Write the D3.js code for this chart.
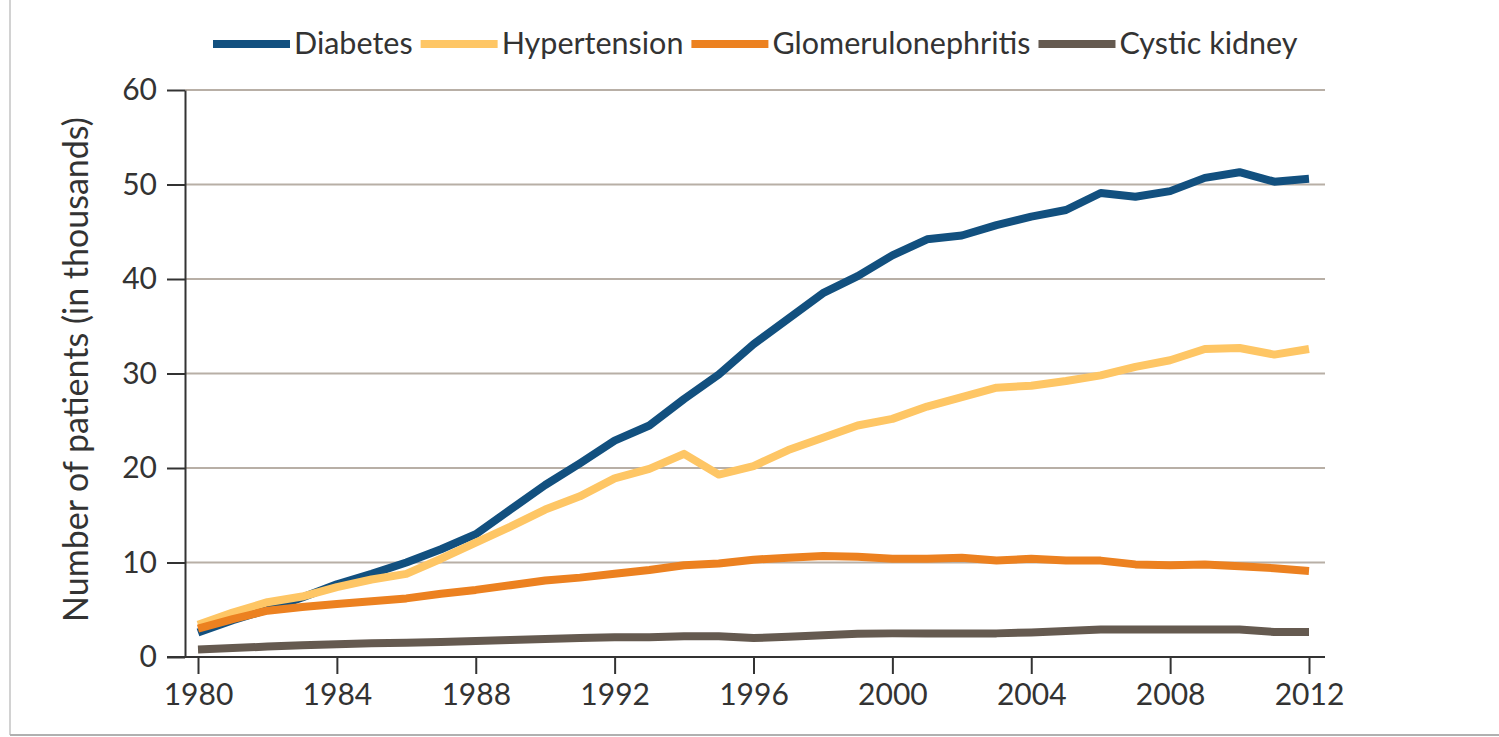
<!DOCTYPE html>
<html>
<head>
<meta charset="utf-8">
<script src="https://cdn.jsdelivr.net/npm/d3@7"></script>
<style>
  body { margin: 0; background: #fff; }
  svg { display: block; font-family: Lato, "Open Sans", sans-serif; }
</style>
</head>
<body>
<div id="chart"></div>
<script>
// ===== data (thousands of patients)
var years = d3.range(1980, 2013);
var diabetes = [2.6, 3.9, 5.0, 6.3, 7.7, 8.8, 10.0, 11.4, 13.0, 15.6, 18.2, 20.5, 22.9, 24.5, 27.3, 29.9, 33.1, 35.8, 38.5, 40.3, 42.5, 44.2, 44.6, 45.7, 46.6, 47.3, 49.1, 48.7, 49.3, 50.7, 51.3, 50.3, 50.6];
var hypertension = [3.4, 4.7, 5.8, 6.4, 7.4, 8.2, 8.8, 10.4, 12.1, 13.8, 15.6, 17.0, 18.9, 19.9, 21.5, 19.3, 20.2, 21.9, 23.2, 24.5, 25.2, 26.5, 27.5, 28.5, 28.7, 29.2, 29.8, 30.7, 31.4, 32.6, 32.7, 32.0, 32.6];
var glomerulonephritis = [3.0, 4.0, 4.9, 5.3, 5.6, 5.9, 6.2, 6.7, 7.1, 7.6, 8.1, 8.4, 8.8, 9.2, 9.7, 9.9, 10.3, 10.5, 10.7, 10.6, 10.4, 10.4, 10.5, 10.2, 10.4, 10.2, 10.2, 9.8, 9.7, 9.8, 9.6, 9.4, 9.1];
var cysticKidney = [0.8, 0.95, 1.1, 1.25, 1.35, 1.45, 1.5, 1.6, 1.7, 1.8, 1.9, 2.0, 2.1, 2.1, 2.2, 2.2, 2.0, 2.15, 2.3, 2.45, 2.5, 2.5, 2.5, 2.5, 2.6, 2.75, 2.9, 2.9, 2.9, 2.9, 2.9, 2.65, 2.65];
var seriesNames = ["Diabetes", "Hypertension", "Glomerulonephritis", "Cystic kidney"];
var seriesColors = ["#12507f", "#fec665", "#ec8120", "#655a50"];
var yTicks = [0, 10, 20, 30, 40, 50, 60];
var xTicks = [1980, 1984, 1988, 1992, 1996, 2000, 2004, 2008, 2012];

var series = [diabetes, hypertension, glomerulonephritis, cysticKidney].map(function(vals, i) {
  return { name: seriesNames[i], color: seriesColors[i], values: vals.map(function(v, j) { return { year: years[j], value: v }; }) };
});

// ===== size
var svgWidth = 1499, svgHeight = 737;
var plotLeft = 185, plotRight = 1325, plotTop = 90, plotBottom = 657;

var svg = d3.select("#chart").append("svg")
  .attr("width", svgWidth)
  .attr("height", svgHeight);

// page frame (left and bottom edge of the screenshot)
svg.append("line").attr("x1", 10).attr("x2", 10).attr("y1", 0).attr("y2", 735)
  .attr("stroke", "#d2d2d2").attr("stroke-width", 2);
svg.append("line").attr("x1", 10).attr("x2", svgWidth).attr("y1", 735).attr("y2", 735)
  .attr("stroke", "#b0b0b0").attr("stroke-width", 2);

// ===== scales
var x = d3.scaleLinear().domain([1980, 2012]).range([198, 1309]);
var y = d3.scaleLinear().domain([0, 60]).range([plotBottom, plotTop]);

// gridlines
svg.append("g").selectAll("line")
  .data(yTicks.filter(function(d) { return d > 0; }))
  .enter().append("line")
  .attr("x1", plotLeft).attr("x2", plotRight)
  .attr("y1", function(d) { return y(d); }).attr("y2", function(d) { return y(d); })
  .attr("stroke", "#b8afa6").attr("stroke-width", 2);

// y axis
var yAxis = svg.append("g")
  .attr("transform", "translate(" + plotLeft + ",0)")
  .call(d3.axisLeft(y).tickValues(yTicks).tickSize(18).tickSizeOuter(0).tickPadding(10));

// x axis
var xAxis = svg.append("g")
  .attr("transform", "translate(0," + plotBottom + ")")
  .call(d3.axisBottom(x).tickValues(xTicks).tickFormat(d3.format("d")).tickSize(17).tickSizeOuter(0).tickPadding(10));
xAxis.select(".domain").remove();
xAxis.append("line").attr("x1", plotLeft - 18).attr("x2", plotRight).attr("y1", 0).attr("y2", 0)
  .attr("stroke", "#333").attr("stroke-width", 2);

[yAxis, xAxis].forEach(function(ax) {
  ax.selectAll(".domain").attr("stroke", "#333").attr("stroke-width", 2);
  ax.selectAll(".tick line").attr("stroke", "#333").attr("stroke-width", 2);
  ax.selectAll(".tick text").attr("fill", "#333").style("font-size", "30px").style("font-family", "Lato, sans-serif");
});

// y axis title
svg.append("text")
  .attr("transform", "translate(88," + ((plotTop + plotBottom) / 2 - 4) + ") rotate(-90)")
  .attr("text-anchor", "middle")
  .attr("fill", "#333")
  .style("font-size", "34px")
  .text("Number of patients (in thousands)");

// ===== lines
var line = d3.line()
  .x(function(d) { return x(d.year); })
  .y(function(d) { return y(d.value); });

svg.append("g").selectAll("path")
  .data(series)
  .enter().append("path")
  .attr("d", function(d) { return line(d.values); })
  .attr("fill", "none")
  .attr("stroke", function(d) { return d.color; })
  .attr("stroke-width", 8)
  .attr("stroke-linejoin", "round");

// ===== legend
var legend = svg.append("g");
var lx = 213;
series.forEach(function(s) {
  legend.append("line")
    .attr("x1", lx).attr("x2", lx + 77).attr("y1", 44).attr("y2", 44)
    .attr("stroke", s.color).attr("stroke-width", 8);
  var t = legend.append("text")
    .attr("x", lx + 81).attr("y", 54)
    .attr("fill", "#333")
    .style("font-size", "30.5px")
    .text(s.name);
  lx = lx + 81 + t.node().getComputedTextLength() + 8;
});
</script>
</body>
</html>
